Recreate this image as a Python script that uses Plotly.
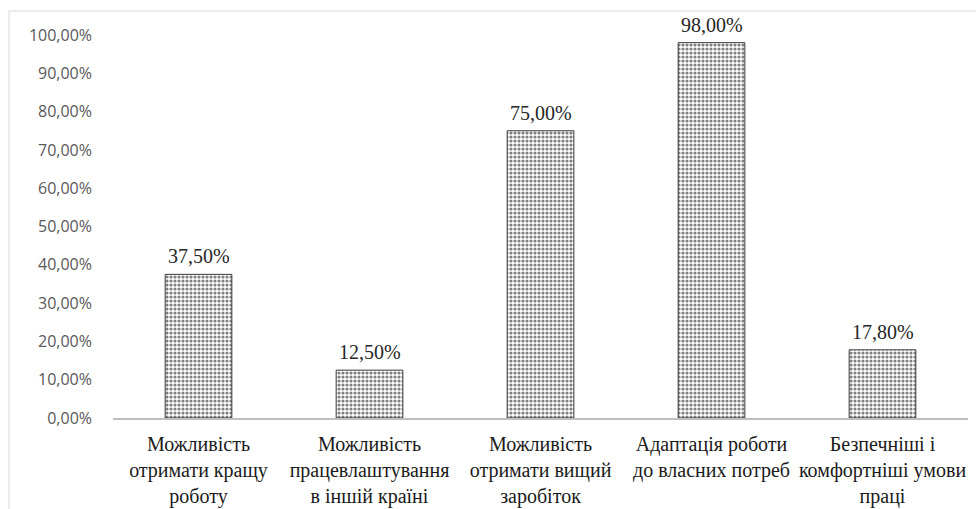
import plotly.graph_objects as go

categories = [
    "Можливість<br>отримати кращу<br>роботу",
    "Можливість<br>працевлаштування<br>в іншій країні",
    "Можливість<br>отримати вищий<br>заробіток",
    "Адаптація роботи<br>до власних потреб",
    "Безпечніші і<br>комфортніші умови<br>праці",
]
values = [0.375, 0.125, 0.75, 0.98, 0.178]
y_ticks = [0, 0.1, 0.2, 0.3, 0.4, 0.5, 0.6, 0.7, 0.8, 0.9, 1.0]

W, H = 976, 509
ml, mr, mt, mb = 113, 8, 35, 91

fig = go.Figure(
    go.Bar(
        x=categories,
        y=values,
        width=0.39,
        marker=dict(
            color="white",
            line=dict(color="#3a3a3a", width=1),
            pattern=dict(shape=".", fgcolor="black", bgcolor="white", size=4, solidity=0.5),
        ),
        cliponaxis=False,
    )
)

for c, v in zip(categories, values):
    fig.add_annotation(
        x=c, y=v, text=f"{v*100:.2f}%".replace(".", ","),
        showarrow=False, yanchor="bottom", yshift=5,
        font=dict(family="Liberation Serif", size=20, color="#262626"),
    )

pw = W - ml - mr
ph = H - mt - mb
fig.add_shape(
    type="rect", xref="paper", yref="paper",
    x0=(9 - ml) / pw, x1=(W + 5 - ml) / pw,
    y0=-(H + 5 - mt - ph) / ph, y1=1 + (mt - 11) / ph,
    line=dict(color="#d9d9d9", width=1), fillcolor="rgba(0,0,0,0)", layer="below",
)

fig.update_layout(
    width=W, height=H,
    margin=dict(l=ml, r=mr, t=mt, b=mb, autoexpand=False),
    paper_bgcolor="white", plot_bgcolor="white",
    separators=", ",
    showlegend=False,
    xaxis=dict(
        showline=True, linecolor="#bfbfbf", linewidth=2,
        tickfont=dict(family="Liberation Serif", size=20, color="#1a1a1a"),
        ticklabelstandoff=7,
        showgrid=False,
        automargin=False,
    ),
    yaxis=dict(
        range=[0, 1.0],
        tickvals=y_ticks,
        tickformat=".2%",
        showgrid=False, showline=False, zeroline=False,
        tickfont=dict(family="Open Sans", size=16, color="#595959"),
        ticklabelstandoff=20,
        automargin=False,
    ),
)

fig.write_html("out.html")
